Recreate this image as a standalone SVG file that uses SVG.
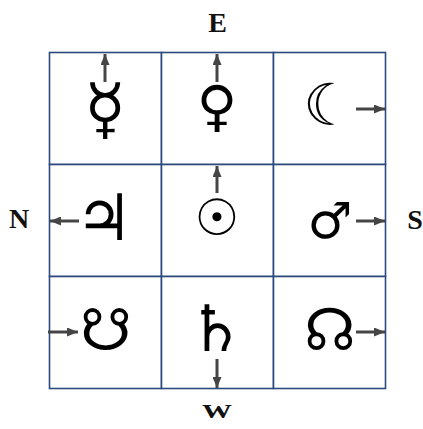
<svg xmlns="http://www.w3.org/2000/svg" width="423" height="429" viewBox="0 0 423 429">
<defs>
<marker id="ah" viewBox="0 0 11 9" refX="11" refY="4.5" markerWidth="11" markerHeight="9" markerUnits="userSpaceOnUse" orient="auto">
<path d="M0,0 L11,4.5 L0,9 Z" fill="#454545"/>
</marker>
<style>
.cell{fill:#ffffff;stroke:#2b4a7e;stroke-width:1.6}
.sym{font-family:"DejaVu Sans",sans-serif;font-size:58px;fill:#000;text-anchor:middle;dominant-baseline:central}
.dir{font-family:"Liberation Serif",serif;font-size:28px;font-weight:bold;fill:#111;text-anchor:middle}
.arr{stroke:#454545;stroke-width:3;fill:none;marker-end:url(#ah)}
</style>
</defs>
<rect width="423" height="429" fill="#ffffff"/>
<g id="grid">
<rect class="cell" x="49.5" y="52.5" width="112" height="112"/>
<rect class="cell" x="161.5" y="52.5" width="112" height="112"/>
<rect class="cell" x="273.5" y="52.5" width="112" height="112"/>
<rect class="cell" x="49.5" y="164.5" width="112" height="112"/>
<rect class="cell" x="161.5" y="164.5" width="112" height="112"/>
<rect class="cell" x="273.5" y="164.5" width="112" height="112"/>
<rect class="cell" x="49.5" y="276.5" width="112" height="112"/>
<rect class="cell" x="161.5" y="276.5" width="112" height="112"/>
<rect class="cell" x="273.5" y="276.5" width="112" height="112"/>
</g>
<g id="mercury"><text class="sym" x="105" y="108" style="font-size:68px">☿</text></g>
<g id="venus"><text class="sym" x="217" y="106" style="font-size:55px">♀</text></g>
<g id="moon"><text class="sym" x="329" y="105">☾</text></g>
<g id="jupiter"><text class="sym" x="104" y="218" style="font-size:64px">♃</text></g>
<g id="sun"><text class="sym" x="217" y="218" style="font-size:50px">☉</text></g>
<g id="mars"><text class="sym" x="330" y="221" style="font-size:50px">♂</text></g>
<g id="ketu"><text class="sym" x="106" y="330">☋</text></g>
<g id="saturn"><text class="sym" x="216" y="329" style="font-size:64px">♄</text></g>
<g id="rahu"><text class="sym" x="330" y="330">☊</text></g>
<g id="labels">
<text class="dir" x="217.5" y="32">E</text>
<text class="dir" x="19" y="228">N</text>
<text class="dir" x="415" y="229">S</text>
<text class="dir" transform="translate(217,418) scale(1.07,0.7)" x="0" y="0">W</text>
</g>
<g id="connectors">
<line class="arr" x1="105" y1="82" x2="105" y2="54"/>
<line class="arr" x1="217" y1="82" x2="217" y2="54"/>
<line class="arr" x1="356" y1="109" x2="385" y2="109"/>
<line class="arr" x1="79" y1="221" x2="50" y2="221"/>
<line class="arr" x1="217" y1="193" x2="217" y2="166"/>
<line class="arr" x1="356" y1="221" x2="385" y2="221"/>
<line class="arr" x1="48" y1="332" x2="78" y2="332"/>
<line class="arr" x1="217" y1="359" x2="217" y2="388"/>
<line class="arr" x1="356" y1="332" x2="385" y2="332"/>
</g>
</svg>
